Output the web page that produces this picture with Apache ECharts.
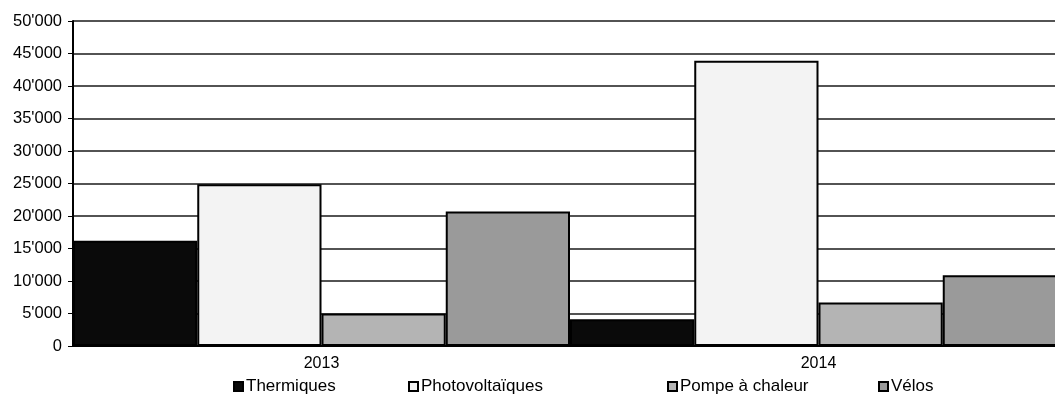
<!DOCTYPE html>
<html>
<head>
<meta charset="utf-8">
<script src="https://cdn.jsdelivr.net/npm/echarts@6/dist/echarts.min.js"></script>
<style>
html, body { margin: 0; padding: 0; background: #fff; }
#chart { width: 1055px; height: 403px; }
</style>
</head>
<body>
<div id="chart"></div>
<script>
// categories and series values
const years = ['2013', '2014'];
const thermiques = [16200, 4100];
const photovoltaiques = [24900, 43900];
const pompeChaleur = [5000, 6700];
const velos = [20700, 10900];
const seriesNames = ['Thermiques', 'Photovoltaïques', 'Pompe à chaleur', 'Vélos'];
const legendLeft = [228, 403, 662, 873];

const fmt = v => String(v).replace(/\B(?=(\d{3})+(?!\d))/g, "'");
const font = '"Liberation Sans", Arial, sans-serif';

const chart = echarts.init(document.getElementById('chart'));

const bar = (name, data, color) => ({
  name: name,
  type: 'bar',
  data: data,
  barGap: '0%',
  barCategoryGap: '0%',
  itemStyle: { color: color, borderColor: '#000', borderWidth: 2 }
});

chart.setOption({
  animation: false,
  textStyle: { fontFamily: font },
  // plot runs past the right edge of the picture, like the scan
  grid: { left: 73, top: 21, bottom: 57, width: 994, outerBoundsMode: 'none', containLabel: false },
  legend: seriesNames.map((n, i) => ({
    data: [n],
    left: legendLeft[i],
    top: 373,
    icon: 'rect',
    itemWidth: 9,
    itemHeight: 9,
    itemGap: 4,
    textStyle: { fontFamily: font, fontSize: 17, color: '#000', padding: [0, 0, 0, -2] }
  })),
  xAxis: {
    type: 'category',
    data: years,
    axisLine: { lineStyle: { color: '#000', width: 2 } },
    axisTick: { length: 8, lineStyle: { color: '#000', width: 1.5 } },
    axisLabel: { color: '#000', fontSize: 16, margin: 10, fontFamily: font }
  },
  yAxis: {
    type: 'value',
    min: 0,
    max: 50000,
    interval: 5000,
    axisLine: { show: true, lineStyle: { color: '#000', width: 2 } },
    axisTick: { show: true, length: 5, lineStyle: { color: '#000' } },
    axisLabel: { color: '#000', fontSize: 16.5, margin: 11, fontFamily: font, formatter: fmt },
    splitLine: { lineStyle: { color: '#1a1a1a', width: 1.5 } }
  },
  series: [
    bar(seriesNames[0], thermiques, '#0a0a0a'),
    bar(seriesNames[1], photovoltaiques, '#f3f3f3'),
    bar(seriesNames[2], pompeChaleur, '#b4b4b4'),
    bar(seriesNames[3], velos, '#9a9a9a')
  ]
});
</script>
</body>
</html>
